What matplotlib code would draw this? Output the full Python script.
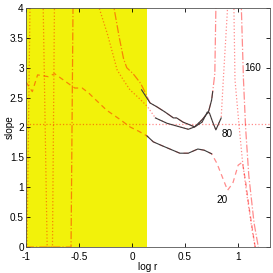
import matplotlib
matplotlib.use("Agg")
import matplotlib.pyplot as plt

plt.rcParams['font.family'] = ['Liberation Sans', 'DejaVu Sans']
plt.rcParams['font.size'] = 7.2

# dashed red curve (label 20)
r20_x = [-1.0, -0.94, -0.89, -0.79, -0.73, -0.58, -0.54, -0.47, -0.41, -0.37, -0.24, -0.11,
         -0.02, 0.06, 0.14, 0.2, 0.29, 0.45, 0.53, 0.62, 0.68, 0.75, 0.8, 0.88, 0.9, 0.95,
         1.0, 1.04, 1.07, 1.1, 1.13, 1.16]
r20_y = [2.76, 2.6, 2.88, 2.85, 2.9, 2.71, 2.66, 2.66, 2.58, 2.51, 2.29, 2.13,
         2.01, 1.94, 1.86, 1.76, 1.69, 1.57, 1.57, 1.64, 1.62, 1.56, 1.4, 1.04, 0.95, 1.07,
         1.37, 1.42, 1.1, 0.7, 0.35, 0.0]

# dotted red curve (label 80)
r80_x = [-1.0, -0.99, -0.96, -0.84, -0.80, -0.75, -0.73, -0.35, -0.31, -0.23, -0.14, -0.08,
         -0.02, 0.06, 0.14, 0.22, 0.33, 0.45, 0.53, 0.59, 0.66, 0.71, 0.73, 0.76, 0.79, 0.84,
         0.86, 0.9, 0.93, 0.96, 0.97, 1.01, 1.04, 1.08, 1.13, 1.16]
r80_y = [0, 0, 4.3, 4.3, 0, 0, 4.3, 4.3, 4.0, 3.55, 2.96, 2.79,
         2.63, 2.5, 2.36, 2.16, 2.07, 2.01, 1.97, 2.01, 2.09, 2.26, 2.24, 2.09, 1.96, 2.16,
         2.8, 4.0, 4.3, 4.0, 2.8, 2.0, 1.45, 0.9, 0.3, 0.0]

# dash-dot red curve (label 160)
r160_x = [-1.0, -0.575, -0.555, -0.19, -0.17, -0.12, -0.08, -0.05, 0.01, 0.08, 0.12, 0.17,
          0.23, 0.31, 0.39, 0.42, 0.48, 0.55, 0.59, 0.66, 0.72, 0.75, 0.76, 0.78, 0.79, 0.8,
          1.02, 1.03, 1.05, 1.07, 1.1, 1.15, 1.19]
r160_y = [0, 0, 4.3, 4.3, 4.0, 3.5, 3.15, 3.0, 2.9, 2.74, 2.6, 2.41,
          2.35, 2.26, 2.16, 2.16, 2.09, 2.04, 2.01, 2.13, 2.26, 2.46, 2.6, 2.9, 4.0, 4.3,
          4.3, 4.0, 2.8, 2.0, 1.2, 0.4, 0.0]

# black fitted parts
k20_x = [0.14, 0.2, 0.29, 0.45, 0.53, 0.62, 0.68, 0.75]
k20_y = [1.86, 1.76, 1.69, 1.57, 1.57, 1.64, 1.62, 1.56]
k80_x = [0.22, 0.33, 0.45, 0.53, 0.59, 0.66, 0.71, 0.73, 0.76, 0.79, 0.84]
k80_y = [2.16, 2.07, 2.01, 1.97, 2.01, 2.09, 2.26, 2.24, 2.09, 1.96, 2.16]
k160_x = [0.09, 0.17, 0.23, 0.31, 0.39, 0.42, 0.48, 0.55, 0.59, 0.66, 0.72, 0.75, 0.76]
k160_y = [2.63, 2.41, 2.35, 2.26, 2.16, 2.16, 2.09, 2.04, 2.01, 2.13, 2.26, 2.46, 2.6]

ref_slope = 2.06
shade = (-1.0, 0.14)

fig = plt.figure(figsize=(2.73, 2.73), dpi=100)
ax = fig.add_axes([0.095, 0.095, 0.894, 0.876])

ax.axvspan(shade[0], shade[1], color='#f2f20a', lw=0)
red = dict(color='red', alpha=0.45, lw=0.9)
ax.axhline(ref_slope, ls=':', **red)
ax.plot(r20_x, r20_y, ls=(0, (4, 3)), **red)
ax.plot(r80_x, r80_y, ls=':', **red)
ax.plot(r160_x, r160_y, ls='-.', **red)

for xs, ys in [(k20_x, k20_y), (k80_x, k80_y), (k160_x, k160_y)]:
    ax.plot(xs, ys, color='#3a3a3a', lw=0.8)

ax.text(0.85, 0.79, '20', ha='center', va='center')
ax.text(0.9, 1.89, '80', ha='center', va='center')
ax.text(1.14, 3.0, '160', ha='center', va='center')

ax.set_xlim(-1, 1.3)
ax.set_ylim(0, 4)
ax.set_xticks([-1, -0.5, 0, 0.5, 1])
ax.set_xticklabels(['-1', '-0.5', '0', '0.5', '1'])
ax.set_yticks([0, 0.5, 1, 1.5, 2, 2.5, 3, 3.5, 4])
ax.set_yticklabels(['0', '0.5', '1', '1.5', '2', '2.5', '3', '3.5', '4'])
ax.tick_params(direction='in', top=True, right=True, length=3, width=0.6)
ax.tick_params(axis='x', pad=3.5)
ax.tick_params(axis='y', pad=1.5)
for s in ax.spines.values():
    s.set_linewidth(0.6)
    s.set_color('#555555')
ax.set_xlabel('log r', labelpad=0)
ax.set_ylabel('slope')
ax.yaxis.set_label_coords(-0.045, 0.5)

fig.savefig('out.png', dpi=100)
